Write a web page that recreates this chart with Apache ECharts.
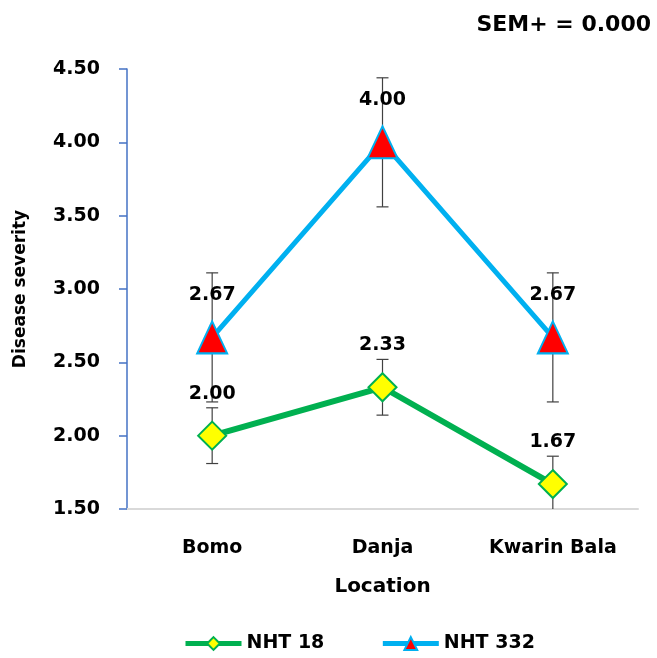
<!DOCTYPE html>
<html><head><meta charset="utf-8">
<script src="https://cdn.jsdelivr.net/npm/echarts@6/dist/echarts.min.js"></script>
<style>html,body{margin:0;padding:0;background:#fff}#c{width:657px;height:658px}</style>
</head><body><div id="c"></div>
<script>
const categories = ['Bomo', 'Danja', 'Kwarin Bala'];
const nht18 = [2.00, 2.33, 1.67];
const nht18Err = [0.19, 0.19, 0.19];
const nht332 = [2.67, 4.00, 2.67];
const nht332Err = [0.44, 0.44, 0.44];
const yTicks = [1.5, 2.0, 2.5, 3.0, 3.5, 4.0, 4.5];
const semText = 'SEM+ = 0.000';

const FONT = 'DejaVu Sans';
const chart = echarts.init(document.getElementById('c'));

function errSeries(vals, errs) {
  return {
    type: 'custom',
    z: 1,
    clip: true,
    silent: true,
    data: vals.map((v, i) => [i, v, errs[i]]),
    renderItem: function (params, api) {
      const i = api.value(0), v = api.value(1), e = api.value(2);
      const top = api.coord([i, v + e]);
      const bot = api.coord([i, v - e]);
      const w = 6;
      const style = { stroke: '#404040', lineWidth: 1.2 };
      return {
        type: 'group',
        children: [
          { type: 'line', shape: { x1: top[0], y1: top[1], x2: bot[0], y2: bot[1] }, style },
          { type: 'line', shape: { x1: top[0] - w, y1: top[1], x2: top[0] + w, y2: top[1] }, style },
          { type: 'line', shape: { x1: bot[0] - w, y1: bot[1], x2: bot[0] + w, y2: bot[1] }, style }
        ]
      };
    }
  };
}

const labelCfg = {
  show: true, position: 'inside', offset: [0, -42],
  fontFamily: FONT, fontWeight: 'bold', fontSize: 19, color: '#000',
  formatter: p => p.value.toFixed(2)
};

chart.setOption({
  animation: false,
  textStyle: { fontFamily: FONT },
  title: {
    text: semText, right: 1, top: 9,
    textStyle: { fontFamily: FONT, fontWeight: 'bold', fontSize: 22, color: '#000' }
  },
  grid: { left: 127, right: 19, top: 69, bottom: 149, outerBoundsMode: 'none', containLabel: false },
  legend: {
    bottom: 0, left: 178, itemGap: 56, itemWidth: 56, itemHeight: 16,
    lineStyle: { width: 5 },
    textStyle: { fontFamily: FONT, fontWeight: 'bold', fontSize: 19, color: '#000' },
    data: ['NHT 18', 'NHT 332']
  },
  xAxis: {
    type: 'category', data: categories, boundaryGap: true,
    name: 'Location', nameLocation: 'middle', nameGap: 68,
    nameTextStyle: { fontFamily: FONT, fontWeight: 'bold', fontSize: 20, color: '#000' },
    axisLine: { lineStyle: { color: '#d9d9d9', width: 2 } },
    axisTick: { show: false },
    axisLabel: { fontFamily: FONT, fontWeight: 'bold', fontSize: 19, color: '#000', margin: 30 }
  },
  yAxis: {
    type: 'value', min: yTicks[0], max: yTicks[yTicks.length - 1], interval: 0.5,
    name: 'Disease severity', nameLocation: 'middle', nameGap: 98, nameRotate: 90,
    nameTextStyle: { fontFamily: FONT, fontWeight: 'bold', fontSize: 17, color: '#000' },
    axisLine: { show: true, lineStyle: { color: '#4472C4', width: 1.5 } },
    axisTick: { show: true, inside: false, length: 8, lineStyle: { color: '#4472C4', width: 1.5 } },
    splitLine: { show: false },
    axisLabel: { fontFamily: FONT, fontWeight: 'bold', fontSize: 19, color: '#000', margin: 27,
      formatter: v => v.toFixed(2) }
  },
  series: [
    errSeries(nht18, nht18Err),
    errSeries(nht332, nht332Err),
    {
      name: 'NHT 18', type: 'line', data: nht18, z: 3,
      symbol: 'diamond', symbolSize: 28,
      lineStyle: { color: '#00B050', width: 6 },
      itemStyle: { color: '#FFFF00', borderColor: '#00B050', borderWidth: 2 },
      label: labelCfg
    },
    {
      name: 'NHT 332', type: 'line', data: nht332, z: 3,
      symbol: 'triangle', symbolSize: [30, 32],
      lineStyle: { color: '#00B0F0', width: 5 },
      itemStyle: { color: '#FF0000', borderColor: '#00B0F0', borderWidth: 2 },
      label: labelCfg
    }
  ]
});
</script></body></html>
